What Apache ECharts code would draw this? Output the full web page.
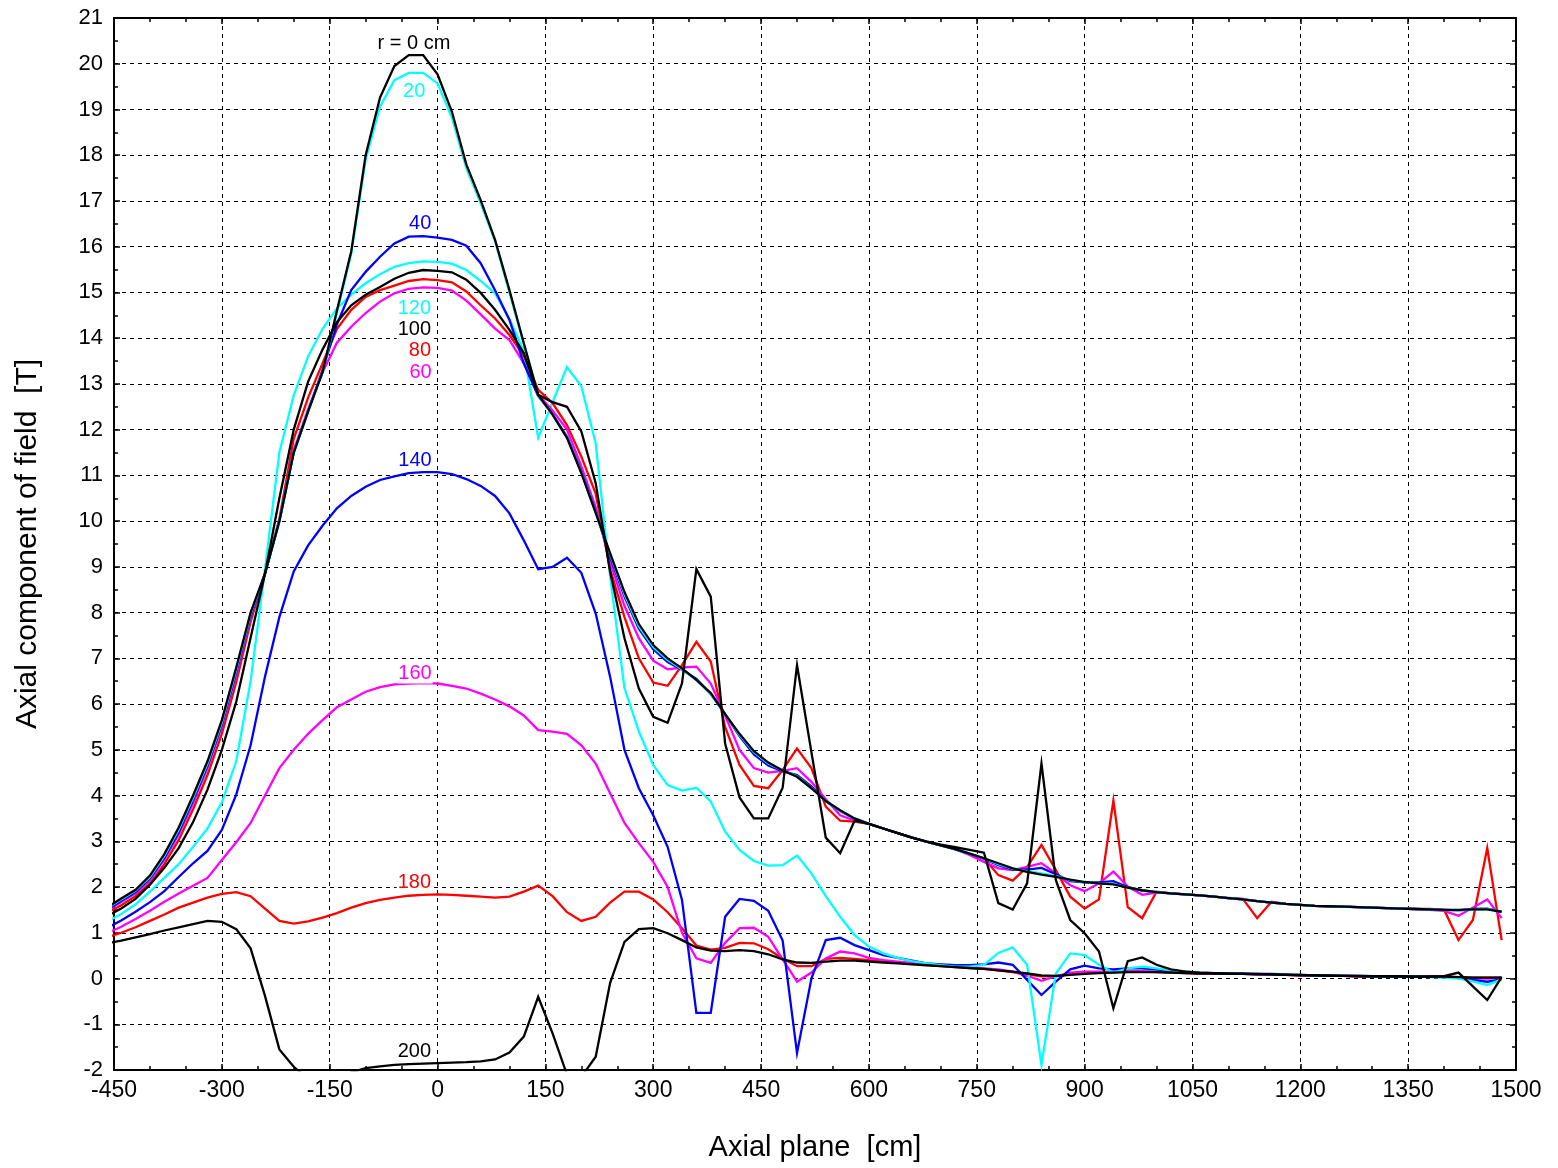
<!DOCTYPE html>
<html>
<head>
<meta charset="utf-8">
<script src="https://cdn.jsdelivr.net/npm/echarts@6/dist/echarts.min.js"></script>
<style>
  html, body { margin: 0; padding: 0; background: #ffffff; }
  #chart { width: 1558px; height: 1168px; }
</style>
</head>
<body>
<div id="chart"></div>
<script>
// Axial positions of the field samples [cm]
const axialPos = [
  -460, -440, -420, -400, -380, -360, -340, -320, -300, -280,
  -260, -240, -220, -200, -180, -160, -140, -120, -100, -80,
  -60, -40, -20, 0, 20, 40, 60, 80, 100, 120,
  140, 160, 180, 200, 220, 240, 260, 280, 300, 320,
  340, 360, 380, 400, 420, 440, 460, 480, 500, 520,
  540, 560, 580, 600, 620, 640, 660, 680, 700, 720,
  740, 760, 780, 800, 820, 840, 860, 880, 900, 920,
  940, 960, 980, 1000, 1020, 1040, 1060, 1080, 1100, 1120,
  1140, 1160, 1180, 1200, 1220, 1240, 1260, 1280, 1300, 1320,
  1340, 1360, 1380, 1400, 1420, 1440, 1460, 1480
];

// Axial field component Bz [T] at each radius r
const bz_r0 = [
  1.55, 1.75, 1.94, 2.25, 2.72, 3.3, 4.0, 4.75, 5.65, 6.8,
  8.0, 8.85, 10.0, 11.5, 12.4, 13.25, 14.6, 15.9, 18.0, 19.26,
  19.95, 20.19, 20.19, 19.77, 18.95, 17.8, 17.02, 16.15, 15.05, 13.89,
  12.76, 12.33, 11.82, 11.05, 10.18, 9.3, 8.45, 7.75, 7.29, 7.0,
  6.78, 6.53, 6.24, 5.78, 5.35, 4.97, 4.72, 4.55, 4.41, 4.16,
  3.88, 3.68, 3.5, 3.38, 3.28, 3.18, 3.08, 2.99, 2.91, 2.83,
  2.73, 2.63, 2.52, 2.41, 2.33, 2.27, 2.22, 2.16, 2.11, 2.08,
  2.06, 1.99, 1.93, 1.89, 1.86, 1.84, 1.82, 1.79, 1.76, 1.73,
  1.69, 1.66, 1.63, 1.61, 1.59, 1.58, 1.57, 1.56, 1.55, 1.54,
  1.53, 1.52, 1.51, 1.5, 1.5, 1.51, 1.51, 1.46
];
const bz_r20 = [
  1.53, 1.73, 1.92, 2.22, 2.68, 3.26, 3.95, 4.7, 5.6, 6.75,
  7.97, 8.85, 10.0, 11.5, 12.4, 13.25, 14.55, 15.85, 17.9, 19.06,
  19.64, 19.8, 19.8, 19.57, 18.82, 17.72, 16.95, 16.12, 15.0, 13.87,
  12.74, 12.33, 11.83, 11.06, 10.18, 9.28, 8.4, 7.7, 7.25, 6.97,
  6.76, 6.52, 6.22, 5.78, 5.33, 4.95, 4.7, 4.55, 4.42, 4.17,
  3.88, 3.67, 3.5, 3.38, 3.28, 3.18, 3.08, 2.99, 2.91, 2.83,
  2.73, 2.63, 2.5, 2.4, 2.35, 2.3, 2.24, 2.15, 2.11, 2.08,
  2.07, 1.99, 1.93, 1.89, 1.86, 1.84, 1.82, 1.79, 1.76, 1.73,
  1.69, 1.66, 1.63, 1.61, 1.59, 1.58, 1.57, 1.56, 1.55, 1.54,
  1.53, 1.52, 1.51, 1.5, 1.49, 1.51, 1.52, 1.46
];
const bz_r40 = [
  1.5, 1.7, 1.89, 2.19, 2.64, 3.2, 3.9, 4.65, 5.55, 6.7,
  7.93, 8.85, 10.0, 11.5, 12.4, 13.3, 14.3, 15.05, 15.45, 15.78,
  16.07, 16.22, 16.23, 16.2, 16.15, 16.02, 15.64, 15.05, 14.4, 13.45,
  12.73, 12.34, 11.85, 11.08, 10.2, 9.22, 8.35, 7.65, 7.2, 6.92,
  6.75, 6.55, 6.22, 5.78, 5.3, 4.9, 4.66, 4.53, 4.45, 4.2,
  3.88, 3.66, 3.49, 3.38, 3.28, 3.18, 3.08, 2.99, 2.91, 2.83,
  2.73, 2.62, 2.48, 2.38, 2.38, 2.42, 2.28, 2.13, 2.1, 2.1,
  2.13, 2.0, 1.92, 1.89, 1.86, 1.84, 1.82, 1.79, 1.76, 1.73,
  1.69, 1.66, 1.63, 1.61, 1.59, 1.58, 1.57, 1.56, 1.55, 1.54,
  1.53, 1.52, 1.51, 1.5, 1.49, 1.52, 1.53, 1.46
];
const bz_r60 = [
  1.48, 1.67, 1.86, 2.15, 2.6, 3.15, 3.83, 4.6, 5.5, 6.63,
  7.9, 8.85, 10.02, 11.55, 12.45, 13.25, 13.9, 14.25, 14.55, 14.8,
  14.98, 15.08, 15.11, 15.1, 15.04, 14.82, 14.52, 14.21, 13.96, 13.45,
  12.77, 12.42, 12.0, 11.2, 10.3, 9.1, 8.15, 7.44, 6.95, 6.76,
  6.8, 6.82, 6.45, 5.75, 5.0, 4.6, 4.5, 4.54, 4.6, 4.3,
  3.92, 3.57, 3.45, 3.38, 3.28, 3.18, 3.08, 2.99, 2.91, 2.83,
  2.7, 2.55, 2.41, 2.37, 2.44, 2.52, 2.3, 2.04, 1.91, 2.08,
  2.34, 2.01, 1.83, 1.88, 1.86, 1.84, 1.82, 1.79, 1.76, 1.73,
  1.69, 1.66, 1.63, 1.61, 1.59, 1.58, 1.57, 1.56, 1.55, 1.54,
  1.53, 1.52, 1.5, 1.48, 1.37, 1.55, 1.73, 1.32
];
const bz_r80 = [
  1.43, 1.6, 1.8, 2.08, 2.5, 3.03, 3.7, 4.45, 5.35, 6.48,
  7.8, 8.85, 10.05, 11.8, 12.7, 13.45, 14.2, 14.62, 14.9, 15.05,
  15.15, 15.25, 15.29, 15.27, 15.22, 15.02, 14.72, 14.43, 14.07, 13.62,
  12.87, 12.58, 12.1, 11.41, 10.6, 8.95, 7.9, 7.0, 6.47, 6.4,
  6.85, 7.36, 6.93, 5.5, 4.67, 4.21, 4.16, 4.56, 5.03, 4.6,
  3.76, 3.45, 3.43, 3.38, 3.28, 3.18, 3.08, 2.99, 2.91, 2.83,
  2.72, 2.63, 2.26, 2.14, 2.44, 2.92, 2.37, 1.79, 1.53, 1.73,
  3.89, 1.56, 1.32, 1.9, 1.86, 1.84, 1.82, 1.79, 1.76, 1.74,
  1.32, 1.68, 1.63, 1.61, 1.59, 1.58, 1.57, 1.56, 1.55, 1.54,
  1.53, 1.52, 1.52, 1.5, 0.84, 1.28, 2.85, 0.84
];
const bz_r100 = [
  1.36, 1.53, 1.74, 2.05, 2.42, 2.85, 3.42, 4.13, 5.0, 6.05,
  7.45, 8.85, 10.5, 12.0, 13.05, 13.75, 14.35, 14.72, 14.95, 15.12,
  15.3, 15.43, 15.49, 15.47, 15.44, 15.28, 14.99, 14.62, 14.18, 13.67,
  12.76, 12.6, 12.5, 11.96, 10.83, 8.9, 7.44, 6.34, 5.72, 5.59,
  6.45, 8.95, 8.35, 5.14, 3.96, 3.5, 3.5, 4.17, 6.85, 4.95,
  3.08, 2.74, 3.45, 3.38, 3.28, 3.18, 3.08, 3.0, 2.93, 2.87,
  2.81, 2.75, 1.65, 1.51, 2.08, 4.7, 2.15, 1.28, 0.99, 0.59,
  -0.65, 0.38, 0.46, 0.3, 0.2, 0.15, 0.13, 0.12, 0.11, 0.1,
  0.1, 0.09, 0.08, 0.08, 0.07, 0.07, 0.06, 0.06, 0.05, 0.05,
  0.05, 0.04, 0.04, 0.05, 0.13, -0.17, -0.47, 0.03
];
const bz_r120 = [
  1.24, 1.41, 1.62, 1.9, 2.2, 2.5, 2.88, 3.28, 3.85, 4.75,
  6.5, 8.95, 11.5, 12.75, 13.6, 14.2, 14.65, 14.95, 15.2, 15.4,
  15.56, 15.64, 15.68, 15.67, 15.63, 15.49, 15.25, 14.98, 14.42, 13.72,
  11.82, 12.6, 13.37, 12.95, 11.7, 8.8, 6.35, 5.4, 4.67, 4.23,
  4.11, 4.17, 3.87, 3.21, 2.81, 2.57, 2.47, 2.48, 2.69, 2.3,
  1.8, 1.35, 0.95, 0.7, 0.55, 0.45, 0.38, 0.33, 0.29, 0.26,
  0.26, 0.3, 0.56, 0.68, 0.3, -1.89, 0.11, 0.55, 0.51, 0.3,
  0.13, 0.22, 0.26, 0.22, 0.18, 0.15, 0.13, 0.12, 0.11, 0.1,
  0.1, 0.09, 0.08, 0.08, 0.07, 0.07, 0.06, 0.06, 0.05, 0.05,
  0.04, 0.04, 0.03, 0.02, 0.0, -0.06, -0.14, -0.02
];
const bz_r140 = [
  1.1, 1.27, 1.46, 1.67, 1.91, 2.22, 2.52, 2.79, 3.25, 4.02,
  5.1, 6.6, 7.9, 8.9, 9.47, 9.9, 10.28, 10.55, 10.75, 10.9,
  10.98, 11.05, 11.07, 11.07, 11.03, 10.92, 10.77, 10.55, 10.17, 9.58,
  8.95, 9.0, 9.2, 8.87, 7.98, 6.6, 5.0, 4.16, 3.57, 2.88,
  1.72, -0.75, -0.75, 1.35, 1.74, 1.7, 1.48, 0.83, -1.63, 0.0,
  0.84, 0.89, 0.73, 0.62, 0.51, 0.45, 0.39, 0.33, 0.31, 0.29,
  0.29, 0.31, 0.35, 0.3, -0.03, -0.36, -0.07, 0.2, 0.28, 0.22,
  0.2, 0.22, 0.22, 0.2, 0.17, 0.15, 0.13, 0.12, 0.11, 0.11,
  0.1, 0.1, 0.09, 0.08, 0.07, 0.07, 0.06, 0.06, 0.05, 0.05,
  0.04, 0.04, 0.04, 0.04, 0.01, -0.03, -0.07, -0.02
];
const bz_r160 = [
  0.99, 1.13, 1.3, 1.48, 1.68, 1.86, 2.03, 2.2, 2.59, 2.98,
  3.4, 4.0, 4.6, 5.0, 5.35, 5.65, 5.93, 6.1, 6.27, 6.37,
  6.43, 6.45, 6.46, 6.45, 6.4, 6.34, 6.23, 6.1, 5.95, 5.75,
  5.43, 5.4, 5.35, 5.1, 4.7, 4.05, 3.4, 2.96, 2.55, 2.0,
  1.0, 0.44, 0.34, 0.78, 1.1, 1.11, 0.91, 0.42, -0.07, 0.13,
  0.44, 0.59, 0.55, 0.45, 0.4, 0.37, 0.34, 0.31, 0.28, 0.26,
  0.24, 0.22, 0.2, 0.15, 0.06, -0.05, 0.05, 0.13, 0.15, 0.15,
  0.15, 0.16, 0.16, 0.15, 0.14, 0.13, 0.12, 0.11, 0.1, 0.1,
  0.09, 0.09, 0.08, 0.07, 0.07, 0.06, 0.06, 0.05, 0.05, 0.05,
  0.04, 0.04, 0.04, 0.04, 0.02, 0.01, 0.0, 0.02
];
const bz_r180 = [
  0.9, 1.0, 1.12, 1.26, 1.4, 1.55, 1.66, 1.77, 1.85, 1.89,
  1.8, 1.53, 1.26, 1.2, 1.25, 1.33, 1.43, 1.55, 1.65, 1.72,
  1.77, 1.81, 1.83, 1.84, 1.83, 1.81, 1.79, 1.77, 1.79, 1.9,
  2.03, 1.8, 1.45, 1.26, 1.35, 1.66, 1.9, 1.9, 1.73, 1.45,
  1.1, 0.72, 0.63, 0.67, 0.78, 0.77, 0.64, 0.44, 0.27, 0.27,
  0.43, 0.45, 0.43, 0.4, 0.38, 0.35, 0.33, 0.3, 0.27, 0.25,
  0.23, 0.21, 0.18, 0.14, 0.09, 0.05, 0.05, 0.09, 0.12, 0.14,
  0.14, 0.15, 0.15, 0.14, 0.13, 0.12, 0.11, 0.11, 0.1, 0.1,
  0.09, 0.09, 0.08, 0.07, 0.07, 0.06, 0.06, 0.05, 0.05, 0.05,
  0.04, 0.04, 0.04, 0.04, 0.03, 0.02, 0.02, 0.02
];
const bz_r200 = [
  0.77, 0.83, 0.9, 0.97, 1.05, 1.12, 1.19, 1.26, 1.24, 1.08,
  0.66, -0.38, -1.55, -1.93, -2.2, -2.3, -2.2, -2.05, -1.96, -1.92,
  -1.89, -1.87, -1.86, -1.85, -1.84, -1.83, -1.81, -1.77, -1.62, -1.27,
  -0.4, -1.2, -2.1, -2.15, -1.71, -0.1, 0.8, 1.08, 1.1, 0.99,
  0.84, 0.68, 0.61, 0.6, 0.62, 0.6, 0.53, 0.42, 0.35, 0.34,
  0.37, 0.39, 0.39, 0.37, 0.35, 0.33, 0.31, 0.29, 0.27, 0.25,
  0.23, 0.21, 0.18, 0.15, 0.11, 0.07, 0.06, 0.08, 0.1, 0.12,
  0.13, 0.14, 0.14, 0.14, 0.13, 0.12, 0.11, 0.11, 0.1, 0.1,
  0.09, 0.09, 0.08, 0.07, 0.07, 0.06, 0.06, 0.05, 0.05, 0.05,
  0.04, 0.04, 0.04, 0.04, 0.03, 0.02, 0.02, 0.02
];

// Radius labels written next to each curve
const curveLabelText = ['r = 0 cm', '20', '40', '120', '100', '80', '60', '140', '160', '180', '200'];
const curveLabelColor = ['#000000', '#00ffff', '#0000ff', '#00ffff', '#000000', '#ff0000', '#ff00ff', '#0000ff', '#ff00ff', '#ff0000', '#000000'];

// Text anchors (right edge, vertical middle) in axis units
const labelAnchorX = [20, -15, -6.5, -7, -7, -7, -6, -6, -6, -7, -7];
const labelAnchorY = [20.44, 19.4, 16.5, 14.66, 14.18, 13.72, 13.24, 11.32, 6.67, 2.09, -1.59];

const FONT = 'Arial, "Liberation Sans", Helvetica, sans-serif';

// Drawing order: outer radii first, axis curve on top
const curves = [
  { name: 'r = 180 cm', values: bz_r180, color: '#ff0000' },
  { name: 'r = 160 cm', values: bz_r160, color: '#ff00ff' },
  { name: 'r = 140 cm', values: bz_r140, color: '#0000ff' },
  { name: 'r = 120 cm', values: bz_r120, color: '#00ffff' },
  { name: 'r = 200 cm', values: bz_r200, color: '#000000' },
  { name: 'r = 80 cm',  values: bz_r80,  color: '#ff0000' },
  { name: 'r = 60 cm',  values: bz_r60,  color: '#ff00ff' },
  { name: 'r = 40 cm',  values: bz_r40,  color: '#0000ff' },
  { name: 'r = 20 cm',  values: bz_r20,  color: '#00ffff' },
  { name: 'r = 100 cm', values: bz_r100, color: '#000000' },
  { name: 'r = 0 cm',   values: bz_r0,   color: '#000000' }
];

const lineSeries = curves.map(c => ({
  type: 'line',
  name: c.name,
  data: axialPos.map((x, i) => [x, c.values[i]]),
  showSymbol: false,
  symbol: 'none',
  clip: true,
  animation: false,
  lineStyle: { color: c.color, width: 2.3, join: 'miter' },
  itemStyle: { color: c.color },
  z: 3
}));

const labelSeries = {
  type: 'scatter',
  name: 'labels',
  symbol: 'circle',
  symbolSize: 1,
  itemStyle: { color: '#ffffff', opacity: 1 },
  animation: false,
  z: 10,
  silent: true,
  labelLayout: { hideOverlap: false },
  data: curveLabelText.map((t, i) => ({
    value: [labelAnchorX[i], labelAnchorY[i]],
    name: t,
    label: { color: curveLabelColor[i] }
  })),
  label: {
    show: true,
    position: 'left',
    distance: 0,
    formatter: p => p.name,
    fontFamily: FONT,
    fontSize: 20,
    opacity: 1,
    backgroundColor: '#ffffff',
    padding: [0, 1, 0, 1]
  }
};

const axisLineStyle = { color: '#000000', width: 2 };
const gridDash = { type: [4, 4], color: '#000000', width: 1 };
const plainNumber = v => String(v);

const option = {
  backgroundColor: '#ffffff',
  animation: false,
  grid: { left: 114, right: 42, top: 18, bottom: 98, containLabel: false },
  xAxis: [
    {
      type: 'value', min: -450, max: 1500, interval: 150, position: 'bottom',
      axisLine: { show: true, onZero: false, lineStyle: axisLineStyle },
      axisTick: { show: true, inside: true, length: 6, lineStyle: { color: '#000', width: 1.5 } },
      minorTick: { show: true, splitNumber: 3, length: 4, lineStyle: { color: '#000', width: 1.5 } },
      axisLabel: { color: '#000', fontFamily: FONT, fontSize: 23, margin: 9, formatter: plainNumber },
      splitLine: { show: true, lineStyle: gridDash },
      name: 'Axial plane  [cm]', nameLocation: 'middle', nameGap: 63,
      nameTextStyle: { color: '#000', fontFamily: FONT, fontSize: 29 }
    },
    {
      type: 'value', min: -450, max: 1500, interval: 150, position: 'top',
      axisLine: { show: true, onZero: false, lineStyle: axisLineStyle },
      axisTick: { show: true, inside: true, length: 6, lineStyle: { color: '#000', width: 1.5 } },
      minorTick: { show: true, splitNumber: 3, length: 4, lineStyle: { color: '#000', width: 1.5 } },
      axisLabel: { show: false },
      splitLine: { show: false }
    }
  ],
  yAxis: [
    {
      type: 'value', min: -2, max: 21, interval: 1, position: 'left',
      axisLine: { show: true, onZero: false, lineStyle: axisLineStyle },
      axisTick: { show: true, inside: true, length: 6, lineStyle: { color: '#000', width: 1.5 } },
      minorTick: { show: true, splitNumber: 2, length: 4, lineStyle: { color: '#000', width: 1.5 } },
      axisLabel: { color: '#000', fontFamily: FONT, fontSize: 22, margin: 11, formatter: plainNumber },
      splitLine: { show: true, lineStyle: gridDash },
      name: 'Axial component of field  [T]', nameLocation: 'middle', nameGap: 71, nameRotate: 90,
      nameTextStyle: { color: '#000', fontFamily: FONT, fontSize: 30 }
    },
    {
      type: 'value', min: -2, max: 21, interval: 1, position: 'right',
      axisLine: { show: true, onZero: false, lineStyle: axisLineStyle },
      axisTick: { show: true, inside: true, length: 6, lineStyle: { color: '#000', width: 1.5 } },
      minorTick: { show: true, splitNumber: 2, length: 4, lineStyle: { color: '#000', width: 1.5 } },
      axisLabel: { show: false },
      splitLine: { show: false }
    }
  ],
  series: [...lineSeries, labelSeries]
};

const chart = echarts.init(document.getElementById('chart'), null, { renderer: 'canvas' });
chart.setOption(option);
</script>
</body>
</html>
